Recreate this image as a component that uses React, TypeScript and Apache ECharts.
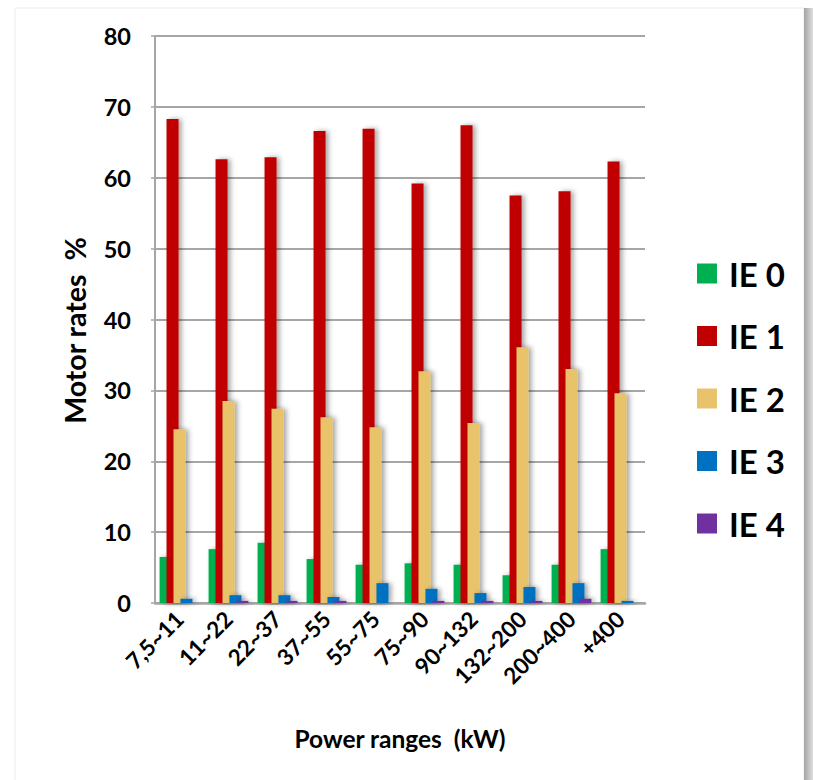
import React, { useEffect, useRef } from "react";
import * as echarts from "echarts";

const categories = ["7,5~11", "11~22", "22~37", "37~55", "55~75", "75~90", "90~132", "132~200", "200~400", "+400"];
const seriesNames = ["IE 0", "IE 1", "IE 2", "IE 3", "IE 4"];
const ie0 = [6.5, 7.6, 8.5, 6.2, 5.4, 5.6, 5.4, 3.9, 5.4, 7.6];
const ie1 = [68.3, 62.6, 62.9, 66.6, 66.9, 59.2, 67.4, 57.5, 58.1, 62.3];
const ie2 = [24.5, 28.5, 27.4, 26.2, 24.8, 32.7, 25.4, 36.1, 33.0, 29.6];
const ie3 = [0.6, 1.1, 1.1, 0.85, 2.8, 2.0, 1.4, 2.25, 2.8, 0.3];
const ie4 = [0, 0.3, 0.3, 0.3, 0, 0.3, 0.3, 0.3, 0.6, 0];
const yTicks = { min: 0, max: 80, interval: 10 };
const colors = ["#00b050", "#c00000", "#e8c36b", "#0070c0", "#7030a0"];

export default function App() {
  const ref = useRef<HTMLDivElement>(null);
  useEffect(() => {
    if (!ref.current) return;
    const chart = echarts.init(ref.current, null, { renderer: "svg" });
    const values = [ie0, ie1, ie2, ie3, ie4];
    const font = "Lato";
    chart.setOption({
      animation: false,
      backgroundColor: "#ffffff",
      graphic: [
        {
          type: "rect",
          z: -10,
          shape: { x: 15, y: 8, width: 789, height: 790 },
          style: { fill: "#ffffff", stroke: "#ececec", lineWidth: 1 },
        },
        {
          type: "rect",
          z: -10,
          shape: { x: 804, y: 8, width: 9, height: 790 },
          style: {
            fill: new echarts.graphic.LinearGradient(0, 0, 1, 0, [
              { offset: 0, color: "#a4a4a4" },
              { offset: 1, color: "#dedede" },
            ]),
          },
        },
      ],
      grid: { left: 155, right: 168, top: 36, bottom: 177 },
      legend: {
        orient: "vertical",
        left: 692,
        top: 252,
        itemWidth: 20,
        itemHeight: 20,
        itemGap: 29.5,
        icon: "rect",
        data: seriesNames,
        textStyle: {
          fontFamily: font,
          fontWeight: "bold",
          fontSize: 33,
          lineHeight: 32,
          color: "#000",
          padding: [0, 0, 0, 7],
        },
      },
      xAxis: {
        type: "category",
        data: categories,
        name: "Power ranges  (kW)",
        nameLocation: "middle",
        nameGap: 123,
        nameTextStyle: { fontFamily: font, fontWeight: "bold", fontSize: 24.5, color: "#000" },
        axisLine: { show: true, lineStyle: { color: "#a6a6a6", width: 2.5 } },
        axisTick: { show: false },
        axisLabel: {
          rotate: 45,
          interval: 0,
          margin: 12,
          fontFamily: font,
          fontWeight: "bold",
          fontSize: 22.5,
          color: "#000",
        },
      },
      yAxis: {
        type: "value",
        min: yTicks.min,
        max: yTicks.max,
        interval: yTicks.interval,
        name: "Motor rates  %",
        nameLocation: "middle",
        nameGap: 66,
        nameTextStyle: {
          fontFamily: font,
          fontWeight: "bold",
          fontSize: 28.5,
          color: "#000",
          padding: [0, 22, 0, 0],
        },
        axisLine: { show: true, lineStyle: { color: "#a6a6a6", width: 2 } },
        axisTick: { show: true, length: 4, lineStyle: { color: "#a6a6a6", width: 1.5 } },
        axisLabel: {
          margin: 24,
          fontFamily: font,
          fontWeight: "bold",
          fontSize: 23.5,
          color: "#000",
        },
        splitLine: { show: true, lineStyle: { color: "#a6a6a6", width: 2 } },
      },
      series: seriesNames.map((name, i) => ({
        name,
        type: "bar",
        data: values[i],
        barWidth: 12,
        barGap: "-42%",
        itemStyle: {
          color: colors[i],
          shadowColor: "rgba(0,0,0,0.35)",
          shadowBlur: 5,
          shadowOffsetX: 3,
          shadowOffsetY: 0,
        },
      })),
    });
    return () => chart.dispose();
  }, []);
  return (
    <div
      ref={ref}
      style={{ position: "absolute", left: 0, top: 0, width: 813, height: 780 }}
    />
  );
}
